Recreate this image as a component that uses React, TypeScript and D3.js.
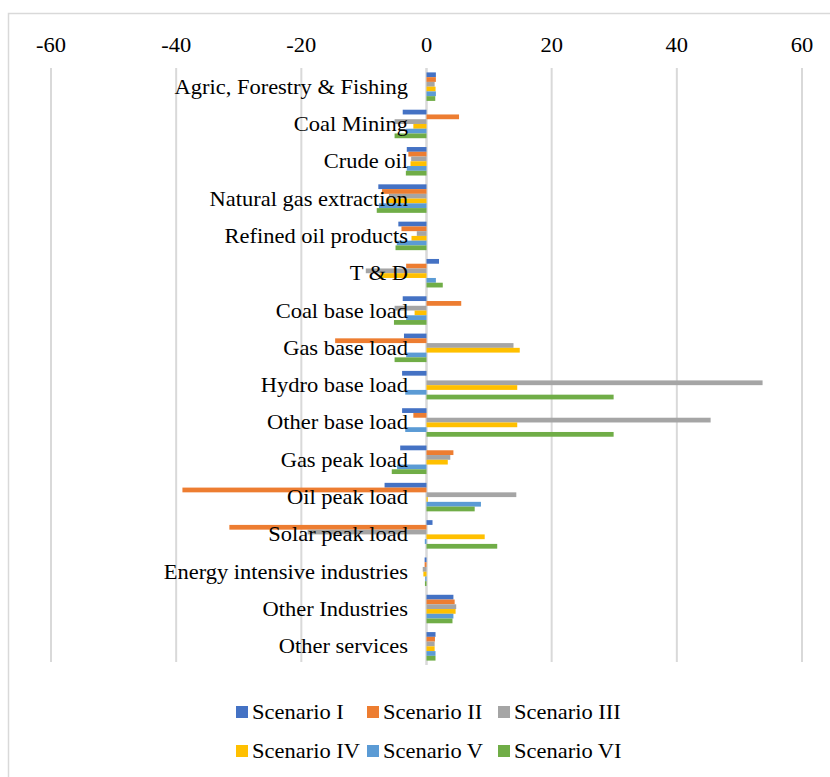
import React from "react";
import * as d3 from "d3";

const categories = [
  "Agric, Forestry & Fishing",
  "Coal Mining",
  "Crude oil",
  "Natural gas extraction",
  "Refined oil products",
  "T & D",
  "Coal base load",
  "Gas base load",
  "Hydro base load",
  "Other base load",
  "Gas peak load",
  "Oil peak load",
  "Solar peak load",
  "Energy intensive industries",
  "Other Industries",
  "Other services",
];

const seriesNames = ["Scenario I", "Scenario II", "Scenario III", "Scenario IV", "Scenario V", "Scenario VI"];
const seriesColors = ["#4472C4", "#ED7D31", "#A5A5A5", "#FFC000", "#5B9BD5", "#70AD47"];

const scenario1 = [1.5, -3.8, -3.15, -7.7, -4.5, 2.0, -3.8, -3.6, -3.9, -3.9, -4.2, -6.7, 0.96, -0.3, 4.3, 1.44];
const scenario2 = [1.5, 5.2, -2.9, -7.1, -4.0, -3.25, 5.55, -14.6, 0.0, -2.1, 4.3, -39.0, -31.5, -0.3, 4.5, 1.35];
const scenario3 = [1.3, -5.1, -2.45, -6.0, -1.55, -9.7, -5.1, 13.9, 53.7, 45.4, 3.8, 14.35, -19.0, -0.6, 4.75, 1.3];
const scenario4 = [1.45, -2.1, -2.55, -6.45, -2.4, -7.5, -1.9, 14.9, 14.5, 14.5, 3.4, 0.2, 9.3, -0.5, 4.65, 1.3];
const scenario5 = [1.5, -3.25, -3.15, -7.6, -4.75, 1.5, -3.25, -3.25, -3.4, -3.4, -4.7, 8.7, -0.27, -0.2, 4.3, 1.44];
const scenario6 = [1.4, -5.1, -3.3, -7.95, -4.95, 2.6, -5.2, -5.1, 29.9, 29.9, -5.55, 7.7, 11.3, -0.25, 4.15, 1.44];

const seriesValues = [scenario1, scenario2, scenario3, scenario4, scenario5, scenario6];
const xTicks = [-60, -40, -20, 0, 20, 40, 60];

const W = 830;
const H = 777;
const FONT = "'Liberation Serif', 'Times New Roman', serif";
const SX = 1.125;

export default function App() {
  const x = d3.scaleLinear().domain([-60, 60]).range([51, 802]);
  const pad = 0.236;
  const y = d3.scaleBand<string>().domain(categories).range([68, 665]).paddingInner(pad).paddingOuter(pad / 2);
  const inner = d3.scaleBand<string>().domain(seriesNames).range([0, y.bandwidth()]);

  const legendPos = [
    { x: 236, y: 706 },
    { x: 367, y: 706 },
    { x: 498, y: 706 },
    { x: 236, y: 745 },
    { x: 367, y: 745 },
    { x: 498, y: 745 },
  ];

  return (
    <svg width={W} height={H} style={{ position: "absolute", left: 0, top: 0, background: "#fff" }}>
      <rect x={0} y={0} width={W} height={H} fill="#fff" />
      <rect x={8.5} y={13.5} width={W + 20} height={H + 20} fill="none" stroke="#d9d9d9" strokeWidth={1.5} />
      {xTicks.map((t) => (
        <line key={"g" + t} x1={x(t)} x2={x(t)} y1={68} y2={t === 0 ? 665 : 662} stroke="#d9d9d9" strokeWidth={t === 0 ? 2.5 : 2} />
      ))}
      {xTicks.map((t) => (
        <text key={"t" + t} transform={`translate(${x(t)},52) scale(${SX},1)`} textAnchor="middle" fontFamily={FONT} fontSize={20} fill="#000">
          {t}
        </text>
      ))}
      {categories.map((c, ci) =>
        seriesValues.map((vals, si) => {
          const v = vals[ci];
          const x0 = x(Math.min(0, v));
          const x1 = x(Math.max(0, v));
          return (
            <rect
              key={c + si}
              x={x0}
              y={(y(c) as number) + (inner(seriesNames[si]) as number)}
              width={Math.max(0, x1 - x0)}
              height={inner.bandwidth()}
              fill={seriesColors[si]}
            />
          );
        })
      )}
      {categories.map((c) => (
        <text
          key={"c" + c}
          transform={`translate(408,${(y(c) as number) + y.bandwidth() / 2 + 7}) scale(${SX},1)`}
          textAnchor="end"
          fontFamily={FONT}
          fontSize={20}
          fill="#000"
        >
          {c}
        </text>
      ))}
      {seriesNames.map((s, i) => (
        <g key={"l" + s}>
          <rect x={legendPos[i].x} y={legendPos[i].y} width={12} height={12} fill={seriesColors[i]} />
          <text transform={`translate(${legendPos[i].x + 16},${legendPos[i].y + 13}) scale(${SX},1)`} fontFamily={FONT} fontSize={20} fill="#000">
            {s}
          </text>
        </g>
      ))}
    </svg>
  );
}
